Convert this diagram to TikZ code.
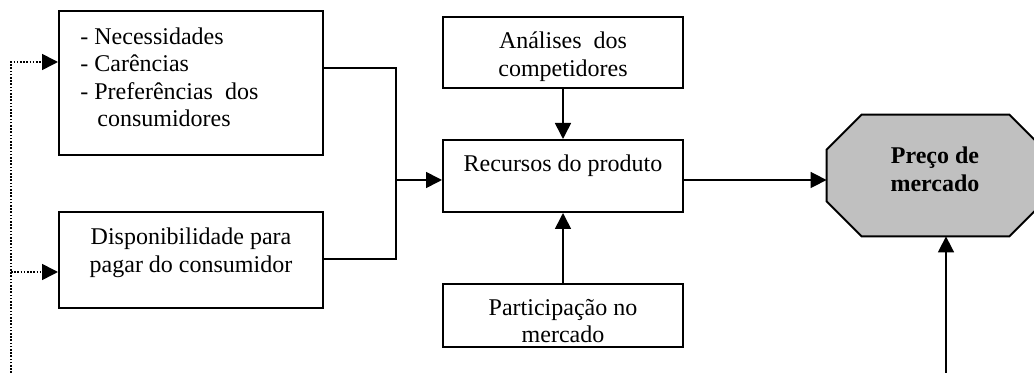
\documentclass[tikz,border=0pt]{standalone}
\usepackage{fontspec}
\setmainfont{Liberation Serif}
\usetikzlibrary{arrows.meta,calc}
\begin{document}
\begin{tikzpicture}[x=0.5pt,y=-0.5pt,
  box/.style={draw, line width=1pt, inner sep=0pt},
  txt/.style={inner sep=0pt, align=center, font=\fontsize{12pt}{13.8pt}\selectfont},
  conn/.style={line width=0.8pt},
  arr/.style={line width=0.8pt, -{Triangle[length=8pt,width=8pt]}},
  dots/.style={line width=0.8pt, dash pattern=on 0.8pt off 0.8pt}]
\useasboundingbox (0,0) rectangle (1034,373);
\clip (0,0) rectangle (1034,373);
% boxes
\node[box, minimum width=132pt, minimum height=72pt] (nec) at (191,83) {};
\node[box, minimum width=132pt, minimum height=48pt] (disp) at (191,260) {};
\node[box, minimum width=120pt, minimum height=35.5pt] (ana) at (563,52.5) {};
\node[box, minimum width=120pt, minimum height=36pt] (rec) at (563,176) {};
\node[box, minimum width=120pt, minimum height=31.5pt] (par) at (563,315.5) {};
\node[inner sep=0pt, minimum width=108.5pt, minimum height=60.5pt] (oct) at (935.5,175.5) {};
\draw[line width=1pt, fill={rgb,255:red,192;green,192;blue,192}] ([xshift=17.5pt]oct.north west) -- ([xshift=-17.5pt]oct.north east)
  -- ([yshift=-17.5pt]oct.north east) -- ([yshift=17.5pt]oct.south east)
  -- ([xshift=-17.5pt]oct.south east) -- ([xshift=17.5pt]oct.south west)
  -- ([yshift=17.5pt]oct.south west) -- ([yshift=-17.5pt]oct.north west) -- cycle;
% texts
\node[txt, align=left, anchor=north west] (necT) at (80,27)
  {- Necessidades\\- Carências\\- Preferências\hspace{6pt}dos\\\hspace{8.5pt}consumidores};
\node[txt] (dispT) at (191,253) {Disponibilidade para\\pagar do consumidor};
\node[txt] (anaT) at (563,57) {Análises\hspace{6pt}dos\\competidores};
\node[txt] (recT) at (563,166) {Recursos do produto};
\node[txt] (parT) at (563,321) {Participação no\\mercado};
\node[txt, font=\fontsize{12pt}{13.8pt}\selectfont\bfseries] (octT) at (935,169) {Preço de\\mercado};
% connectors
\coordinate (j) at (396,180);
\draw[conn] ([yshift=7.5pt]nec.east) -| (j);
\draw[conn] ([yshift=0.5pt]disp.east) -| (j);
\draw[arr] (j) -- (rec.west |- j);
\draw[arr] (ana.south) -- (rec.north);
\draw[arr] (par.north) -- (rec.south);
\draw[arr] (rec.east |- j) -- (oct.west |- j);
\coordinate (b) at (946,373);
\draw[arr] (b) -- (oct.south -| b);
\coordinate (d0) at (11,373);
\coordinate (d1) at (11,272);
\draw[arr, dots] (d0) |- ([yshift=10.5pt]nec.west);
\draw[arr, dots] (d1) -- (disp.west |- d1);
\end{tikzpicture}
\end{document}
